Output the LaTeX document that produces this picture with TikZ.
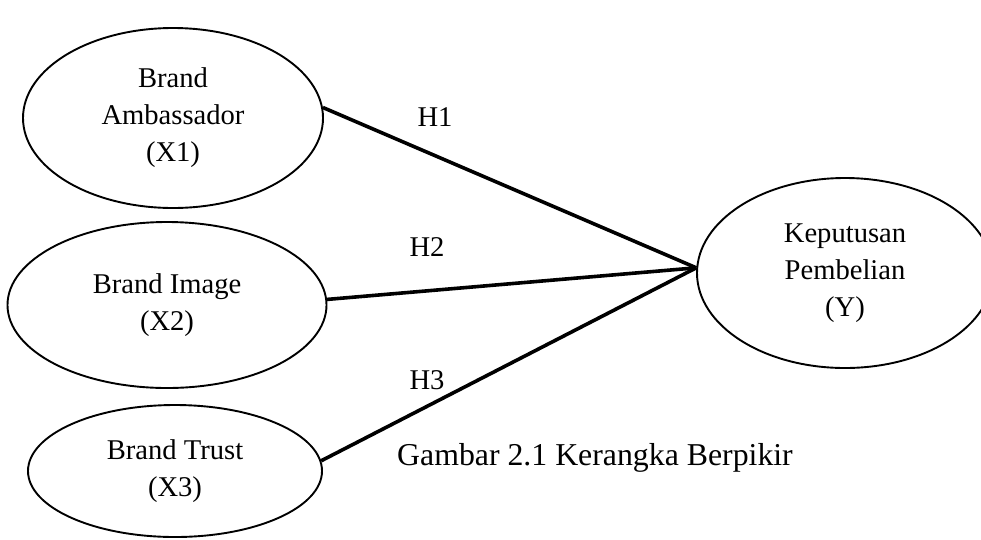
\documentclass[tikz,border=0pt]{standalone}
\usepackage{fontspec}
\setmainfont{Liberation Serif}
\usetikzlibrary{shapes.geometric}
\begin{document}
\begin{tikzpicture}[x=1pt,y=-1pt,
  var/.style={draw, line width=1.9pt, ellipse, inner sep=0pt, align=center,
    font=\fontsize{28.6}{37}\selectfont},
  link/.style={line width=3.6pt},
  hlabel/.style={font=\fontsize{28.6}{34}\selectfont, inner sep=0pt}]
\useasboundingbox (0,0) rectangle (981,539);
\node[var, minimum width=300pt, minimum height=180pt] (x1) at (173,118) {Brand\\Ambassador\\(X1)};
\node[var, minimum width=319pt, minimum height=166pt] (x2) at (167,305) {Brand Image\\(X2)};
\node[var, minimum width=294pt, minimum height=132pt] (x3) at (175,471) {Brand Trust\\(X3)};
\node[var, minimum width=296pt, minimum height=190pt] (y) at (845,273) {Keputusan\\Pembelian\\(Y)};
\coordinate (m) at (y.178);
\draw[link] (x1.4) -- (m);
\draw[link] (x2.2) -- (m);
\draw[link] (x3.4) -- (m);
\node[hlabel] (h1) at (435,117) {H1};
\node[hlabel] (h2) at (427,247) {H2};
\node[hlabel] (h3) at (427,380) {H3};
\node[font=\fontsize{31.8}{38}\selectfont, inner sep=0pt, anchor=base west] (cap) at (397,465) {Gambar 2.1 Kerangka Berpikir};
\end{tikzpicture}
\end{document}
